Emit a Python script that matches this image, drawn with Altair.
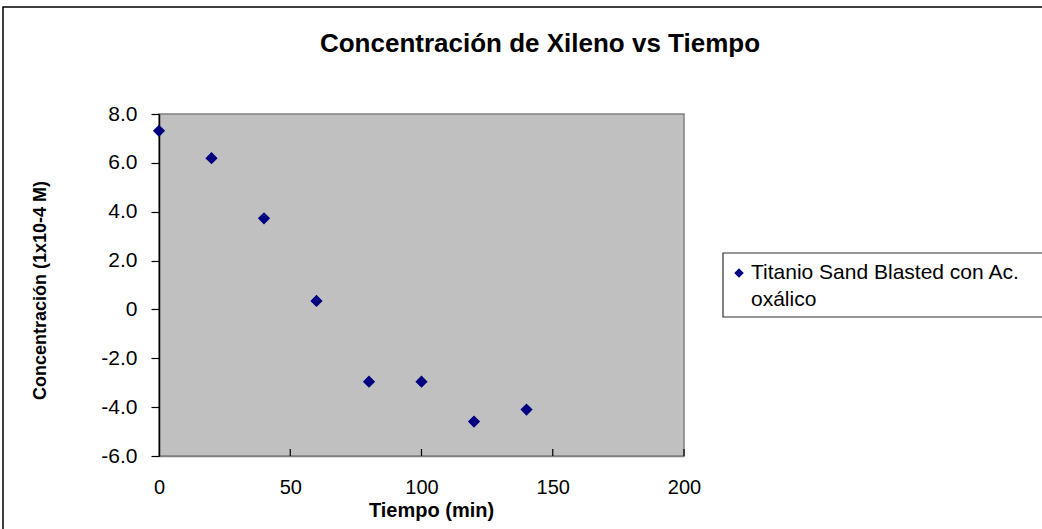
import altair as alt
import pandas as pd

# Series: xylene concentration over time
tiempo = [0, 20, 40, 60, 80, 100, 120, 140]
concentracion = [7.31, 6.19, 3.73, 0.35, -2.96, -2.96, -4.59, -4.10]
serie = ["Titanio Sand Blasted con Ac.\noxálico"]
titulo = ["Concentración de Xileno vs Tiempo"]

x_ticks = [0, 50, 100, 150, 200]
x_inner_ticks = [50, 100, 150, 200]
y_ticks = [-6, -4, -2, 0, 2, 4, 6, 8]

FONT = "Liberation Sans"
W, H = 525, 342
NAVY = "#000080"

df = pd.DataFrame({"Tiempo": tiempo, "Conc": concentracion, "Serie": serie[0]})
ticks_df = pd.DataFrame({"t": x_inner_ticks})
legend_df = pd.DataFrame({"Serie": serie})
title_df = pd.DataFrame({"titulo": titulo})

x_scale = alt.Scale(domain=[0, 200], nice=False, zero=False)
y_scale = alt.Scale(domain=[-6, 8], nice=False, zero=False)

x_axis = alt.Axis(
    values=x_ticks, grid=False, ticks=False, tickSize=0,
    domainColor="#808080", domainWidth=1.5,
    labelFont=FONT, labelFontSize=20, labelColor="black", labelPadding=21,
    labelFlush=False,
    title="Tiempo (min)", titleFont=FONT, titleFontSize=20, titleFontWeight="bold",
    titleColor="black", titleX=272, titleY=60, titleBaseline="alphabetic",
    titleAnchor="middle",
)
y_axis = alt.Axis(
    values=y_ticks, grid=False, tickSize=8, tickColor="black", tickWidth=1.2,
    domainColor="black", domainWidth=1.5,
    labelExpr="datum.value == 0 ? '0' : (datum.value < 0 ? '-' : '') + format(abs(datum.value), '.1f')",
    labelFont=FONT, labelFontSize=21, labelColor="black", labelPadding=14,
    title="Concentración (1x10-4 M)", titleFont=FONT, titleFontSize=18,
    titleFontWeight="bold", titleColor="black", titleAngle=270,
    titleX=-119, titleY=176, titleAlign="center", titleBaseline="middle",
)

points = alt.Chart(df).mark_point(
    shape="diamond", filled=True, size=150, color=NAVY, opacity=1
).encode(
    x=alt.X("Tiempo:Q", scale=x_scale, axis=x_axis),
    y=alt.Y("Conc:Q", scale=y_scale, axis=y_axis),
)

# inward-pointing tick marks on the time axis
inner_ticks = alt.Chart(ticks_df).mark_rule(color="black", strokeWidth=1.2).encode(
    x=alt.X("t:Q", scale=x_scale),
    y=alt.value(H - 7),
    y2=alt.value(H),
)

# outer chart frame
frame = alt.Chart(legend_df).mark_rect(
    fill=None, stroke="black", strokeWidth=1.5
).encode(
    x=alt.value(-156), x2=alt.value(1000), y=alt.value(-107), y2=alt.value(600)
)

# chart heading
heading = alt.Chart(title_df).mark_text(
    align="center", baseline="alphabetic", font=FONT, fontSize=26,
    fontWeight="bold", color="black",
).encode(x=alt.value(381), y=alt.value(-62), text="titulo:N")

# legend box
leg_box = alt.Chart(legend_df).mark_rect(
    fill="white", stroke="#303030", strokeWidth=1.2
).encode(
    x=alt.value(564), x2=alt.value(950), y=alt.value(139), y2=alt.value(203)
)
leg_sym = alt.Chart(legend_df).mark_point(
    shape="diamond", filled=True, size=90, color=NAVY, opacity=1
).encode(x=alt.value(580), y=alt.value(159))
leg_txt = alt.Chart(legend_df).mark_text(
    align="left", baseline="alphabetic", font=FONT, fontSize=21,
    color="black", lineBreak="\n", lineHeight=27,
).encode(x=alt.value(592), y=alt.value(165), text="Serie:N")

chart = alt.layer(frame, heading, inner_ticks, points, leg_box, leg_sym, leg_txt).properties(
    width=W, height=H,
    autosize=alt.AutoSizeParams(type="none"),
    padding={"left": 159, "top": 114, "right": 358, "bottom": 73},
    background="white",
).configure_view(
    fill="#C0C0C0", stroke="#808080", strokeWidth=1.5
)

chart.save("out.html", embed_options={"renderer": "svg", "actions": False})
